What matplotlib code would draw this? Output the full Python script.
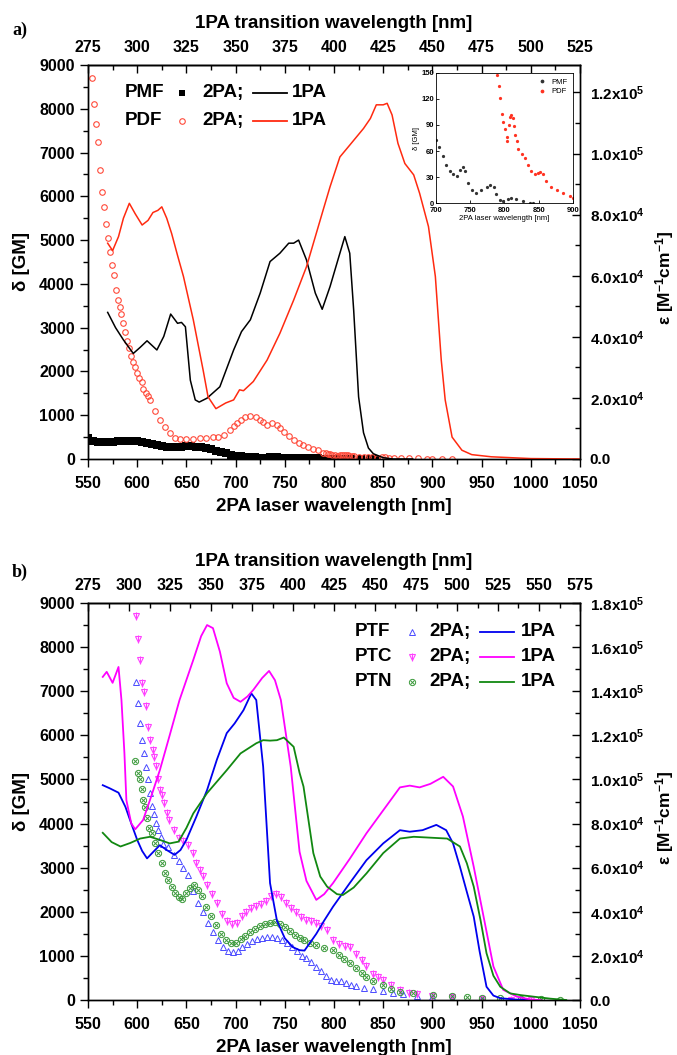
import numpy as np
import matplotlib.pyplot as plt
from matplotlib.ticker import MultipleLocator, FuncFormatter

plt.rcParams['font.family'] = ['Liberation Sans', 'DejaVu Sans']
plt.rcParams['font.weight'] = 'bold'
plt.rcParams['axes.labelweight'] = 'bold'
plt.rcParams['mathtext.fontset'] = 'custom'
plt.rcParams['mathtext.rm'] = 'Liberation Sans:bold'
plt.rcParams['mathtext.bf'] = 'Liberation Sans:bold'
plt.rcParams['mathtext.default'] = 'bf'
plt.rcParams['axes.linewidth'] = 1.0

# ---------------- panel a data ----------------
# 2PA cross sections (GM)
pmf_2pa_x = [550, 555, 560, 565, 570, 575, 580, 585, 590, 595, 600, 605, 610, 615, 620, 625,
             630, 635, 640, 645, 650, 655, 660, 665, 670, 675, 680, 685, 690, 695, 700,
             705, 710, 715, 720, 725, 730, 735, 739, 742, 747, 752, 759, 766, 774, 779,
             784, 788, 793, 798, 805, 810, 817, 827, 837, 842]
pmf_2pa_y = [470, 420, 390, 380, 380, 390, 400, 415, 420, 415, 400, 380, 360, 335, 310, 290,
             280, 275, 280, 285, 290, 290, 285, 270, 250, 220, 190, 160, 130, 100, 73,
             65, 54, 44, 37, 33, 31, 38, 42, 37, 23, 15, 12, 15, 19, 21,
             18, 10, 4, 2, 5, 6, 5, 2, 0, 0]

pdf_2pa_x = [554, 556, 558, 560.5, 562, 564, 566, 568, 570, 572, 574, 576, 578, 580, 582.5,
             584, 586, 588, 590, 592, 594, 596, 598, 600, 602, 605, 606, 609, 611, 613,
             618, 623, 628, 633, 638, 644, 650, 657, 664, 670, 677, 682, 688, 694, 698,
             701, 705, 710, 715, 721, 725, 728, 732, 737, 742, 745, 749, 754, 759, 764,
             769, 774, 779, 784, 789, 792, 794, 796, 798, 801, 803, 804, 806, 808, 810,
             812, 814, 815, 818, 820, 825, 830, 835, 839, 844, 849, 852, 856, 861, 868,
             876, 885, 895, 900, 910, 920]
pdf_2pa_y = [8700, 8100, 7650, 7250, 6610, 6110, 5750, 5360, 5040, 4720, 4430, 4200, 3860, 3630, 3480,
             3310, 3100, 2910, 2700, 2530, 2350, 2220, 2110, 1960, 1840, 1750, 1610, 1510, 1430, 1350,
             1100, 890, 720, 590, 475, 455, 450, 460, 475, 485, 495, 510, 550, 660, 750,
             830, 900, 950, 980, 950, 900, 850, 780, 830, 780, 700, 620, 520, 435, 375,
             320, 270, 230, 195, 148, 135, 121, 103, 94, 85, 76, 71, 90, 99, 101,
             98, 89, 79, 71, 62, 56, 52, 44, 37, 33, 35, 36, 33, 25, 19,
             15, 12, 8, 6, 5, 4]

# 1PA molar absorption (M^-1 cm^-1), x = 2 x 1PA wavelength
pmf_1pa_x = [570, 578, 586, 596, 603, 610, 620, 627, 634, 641, 645, 649, 654, 659, 663, 671,
             684, 698, 706, 715, 725, 735, 745, 754, 759, 764, 772, 781, 788, 796, 804,
             811, 816, 820, 825, 830, 835, 840, 850, 860, 880]
pmf_1pa_y = [48000, 43000, 39000, 34550, 36550, 38700, 35700, 40130, 47450, 44430, 44720, 43290,
             25800, 19350, 18630, 19920, 23650, 35690, 41710, 45580, 54320, 64640, 67370, 70660,
             70660, 71670, 65220, 54320, 49020, 56470, 65220, 72810, 67370, 48730, 20350, 8600,
             3580, 1720, 430, 0, 0]

pdf_1pa_x = [570, 575, 581, 586, 592, 598, 605, 611, 616, 621, 625, 630, 635, 641, 647, 657,
             667, 672, 680, 690, 698, 704, 708, 718, 732, 745, 759, 772, 789, 796, 806, 816,
             830, 837, 843, 850, 854, 859, 865, 872, 881, 887, 896, 903, 909, 913, 920, 930,
             940, 960, 1000, 1050]
pdf_1pa_y = [70660, 68230, 72810, 78830, 83710, 80270, 76610, 78120, 80700, 81410, 82560, 78830,
             73820, 66650, 59770, 45580, 29100, 20350, 16480, 18350, 19350, 22650, 22360, 25370,
             32390, 41140, 52030, 62920, 81560, 89150, 98900, 102770, 108220, 111510, 115960,
             115960, 116460, 112660, 103340, 96750, 93020, 87000, 76110, 59770, 32390, 19350,
             7170, 2870, 1430, 720, 140, 0]

# ---------------- panel b data ----------------
ptf_2pa_x = [599, 601, 603, 604.5, 607, 609, 611, 613, 615, 617, 619, 621, 624, 626, 631, 637,
             642, 647, 652, 657, 662, 667, 672, 677, 682, 687, 692, 697, 702, 707, 712, 717,
             722, 727, 732, 737, 742, 747, 752, 757, 762, 767, 772, 777, 782, 787, 792, 797,
             802, 807, 812, 817, 822, 830, 840, 850, 860, 870, 884, 900, 920, 950, 980]
ptf_2pa_y = [7215, 6740, 6290, 5890, 5600, 5290, 5010, 4690, 4400, 4210, 4020, 3850, 3700, 3530,
             3460, 3290, 3140, 3000, 2840, 2460, 2200, 2000, 1750, 1550, 1350, 1200, 1100, 1080,
             1100, 1200, 1280, 1340, 1380, 1400, 1420, 1420, 1400, 1370, 1300, 1200, 1100, 1000,
             950, 870, 755, 650, 550, 450, 440, 430, 380, 340, 310, 270, 240, 200, 160, 130,
             100, 60, 35, 15, 5]

ptc_2pa_x = [599, 601, 603, 605, 607, 609, 611, 613, 616, 617.5, 619, 621, 623, 625, 627.5, 630,
             632.5, 637, 642, 647, 652, 657, 660, 664, 667, 671, 676, 681, 686, 691, 696, 701,
             706, 711, 716, 721, 726, 731, 736, 741, 746, 751, 756, 761, 766, 772, 777, 782,
             787, 793, 799, 805, 811, 816, 822, 828, 833, 840, 845, 850, 858, 867, 876, 884,
             900, 920, 950, 980, 1000]
ptc_2pa_y = [8700, 8180, 7710, 7190, 6990, 6660, 6180, 5890, 5670, 5500, 5310, 5010, 4760, 4650,
             4460, 4230, 4080, 3850, 3670, 3610, 3510, 3330, 3100, 2950, 2800, 2610, 2400, 2200,
             1950, 1800, 1720, 1750, 1900, 2000, 2080, 2120, 2180, 2250, 2350, 2400, 2330, 2200,
             2080, 1990, 1890, 1820, 1780, 1740, 1680, 1590, 1360, 1280, 1220, 1210, 1050, 900,
             760, 600, 520, 450, 330, 230, 170, 130, 90, 60, 30, 10, 5]

ptn_2pa_x = [598, 600.5, 603, 604.5, 606, 608, 610, 612, 615, 618, 621, 625, 628, 631.5, 635,
             638, 642, 646, 650, 654, 658, 662, 666, 670, 675, 680, 685, 690, 695, 700, 705,
             710, 715, 720, 725, 730, 735, 740, 745, 750, 755, 760, 765, 770, 776, 782, 790,
             799, 805, 810, 816, 822, 828, 833, 840, 850, 858, 867, 880, 901, 920, 935, 950,
             969, 990, 1010, 1030]
ptn_2pa_y = [5420, 5140, 5010, 4780, 4530, 4380, 4120, 3910, 3780, 3550, 3330, 3100, 2870, 2720,
             2570, 2420, 2330, 2300, 2420, 2550, 2600, 2500, 2350, 2100, 1900, 1700, 1500, 1350,
             1290, 1300, 1380, 1450, 1550, 1620, 1680, 1720, 1750, 1760, 1720, 1650, 1560, 1480,
             1400, 1350, 1300, 1250, 1190, 1130, 1030, 920, 830, 720, 620, 530, 440, 340, 260,
             190, 150, 110, 90, 75, 55, 38, 25, 15, 5]

ptf_1pa_x = [565, 572, 581, 588, 594, 600, 605, 610, 616, 623, 630, 638, 644, 650, 660, 671, 681,
             691, 699, 708, 716, 721, 728, 735, 742, 750, 758, 765, 770, 782, 790, 799, 816,
             833, 850, 867, 877, 890, 904, 914, 921, 928, 935, 942, 948, 955, 962, 969, 985, 1000]
ptf_1pa_y = [97400, 96000, 94000, 87600, 80000, 72600, 67600, 64200, 67000, 70200, 68000, 65800,
             68000, 72600, 83000, 95200, 109000, 121000, 125400, 131400, 139000, 136000, 105800,
             53000, 36000, 28000, 24000, 22600, 22400, 30000, 36000, 42300, 53000, 63400, 71000,
             77000, 76300, 77000, 79400, 77000, 71000, 60400, 49000, 37800, 22000, 6000, 2000,
             800, 200, 0]

ptc_1pa_x = [565, 569, 575, 581, 584, 587, 589, 594, 598, 606, 614, 623, 633, 643, 657, 665, 671,
             677, 684, 691, 698, 705, 712, 718, 727, 734, 740, 746, 756, 765, 772, 782, 790, 799,
             816, 833, 850, 867, 877, 887, 898, 911, 921, 931, 942, 952, 962, 972, 986, 1000, 1010]
ptc_1pa_y = [146500, 148800, 143800, 151000, 136000, 112000, 90600, 80000, 77400, 81600, 92000,
             104200, 120000, 136000, 154200, 165000, 170000, 168600, 158000, 143600, 137000,
             135200, 137600, 140600, 146000, 149200, 145000, 136000, 105800, 67200, 54000, 45400,
             48000, 53000, 64000, 75600, 86000, 96400, 97200, 96400, 98000, 101200, 96800, 83200,
             60400, 37800, 15200, 4600, 1500, 200, 0]

ptn_1pa_x = [565, 574, 583, 593, 603, 613, 623, 633, 642, 650, 657, 671, 691, 705, 721, 728, 735,
             742, 749, 759, 765, 769, 779, 786, 793, 803, 809, 820, 833, 850, 867, 881, 898, 915,
             928, 935, 942, 949, 955, 962, 969, 979, 990, 1003, 1020, 1036]
ptn_1pa_y = [75800, 71600, 69600, 71200, 73200, 74000, 72600, 71000, 71800, 78000, 84600, 93800,
             104200, 111800, 116400, 117800, 117600, 117800, 119000, 114800, 103000, 96800, 66600,
             56000, 51400, 48000, 47600, 51000, 57400, 66600, 73200, 74000, 73600, 73200, 69600,
             62000, 51400, 36000, 21200, 11000, 6000, 3000, 2200, 1500, 600, 0]

W, H = 677, 1055
fig = plt.figure(figsize=(W / 100, H / 100), dpi=100)

TICK = 11.5
LAB = 13.5


def sci_fmt(v, pos):
    if v <= 0:
        return '0.0' if abs(v) < 1 else ''
    e = int(np.floor(np.log10(v) + 1e-9))
    return '%.1fx10$^{%d}$' % (v / 10 ** e, e)


def setup(ax, ax2, eps_max, eps_major, fwd, inv):
    ax.set_xlim(550, 1050)
    ax.set_ylim(0, 9000)
    ax.xaxis.set_major_locator(MultipleLocator(50))
    ax.xaxis.set_minor_locator(MultipleLocator(25))
    ax.yaxis.set_major_locator(MultipleLocator(1000))
    ax.yaxis.set_minor_locator(MultipleLocator(500))
    ax.tick_params(which='both', direction='out', width=1, labelsize=TICK, top=False, right=False)
    ax.tick_params(which='major', length=6)
    ax.tick_params(which='minor', length=3.5)
    ax.tick_params(axis='x', pad=6)
    ax.set_xlabel('2PA laser wavelength [nm]', fontsize=LAB, labelpad=5)
    ax.set_ylabel('δ [GM]', fontsize=LAB)
    ax.yaxis.set_label_coords(-0.118, 0.5)

    ax2.set_ylim(0, eps_max)
    ax2.yaxis.set_major_locator(MultipleLocator(eps_major))
    ax2.yaxis.set_minor_locator(MultipleLocator(eps_major / 2))
    ax2.yaxis.set_major_formatter(FuncFormatter(sci_fmt))
    ax2.tick_params(which='both', direction='in', width=1, labelsize=11, pad=7)
    ax2.tick_params(which='major', length=6)
    ax2.tick_params(which='minor', length=3.5)
    ax2.set_ylabel('ε [M$^{-1}$cm$^{-1}$]', fontsize=12.5)
    ax2.yaxis.set_label_coords(1.148, 0.46)

    sec = ax.secondary_xaxis('top', functions=(fwd, inv))
    sec.xaxis.set_major_locator(MultipleLocator(25))
    sec.xaxis.set_minor_locator(MultipleLocator(12.5))
    sec.tick_params(which='both', direction='in', width=1, labelsize=TICK, pad=7)
    sec.tick_params(which='major', length=6)
    sec.tick_params(which='minor', length=3.5)
    sec.set_xlabel('1PA transition wavelength [nm]', fontsize=LAB, labelpad=9)
    return sec


def key_row(ax, y, name, marks, color, xs):
    kw = dict(transform=ax.transAxes, va='center', fontsize=13.5)
    ax.text(xs[0], y, name, **kw)
    for m in marks:
        ax.plot([xs[1]], [y], transform=ax.transAxes, linestyle='none', clip_on=False, **m)
    ax.text(xs[2], y, '2PA;', **kw)
    ax.plot([xs[3], xs[4]], [y, y], color=color, lw=1.3, transform=ax.transAxes)
    ax.text(xs[5], y, '1PA', **kw)


# ---------------- panel a ----------------
axa = fig.add_axes([88 / W, 1 - 459 / H, 492 / W, 394 / H])
axa2 = axa.twinx()
setup(axa, axa2, 1.29e5, 2e4, lambda x: x / 2, lambda t: t * 2)

pmf_sq = dict(marker='s', color='black', markersize=5.5, mew=0)
pdf_ci = dict(marker='o', mfc='none', mec='#ff4a3a', markersize=4, mew=0.8)
axa.plot(pmf_2pa_x, pmf_2pa_y, linestyle='none', **pmf_sq)
axa.plot(pdf_2pa_x, pdf_2pa_y, linestyle='none', **pdf_ci)
axa2.plot(pmf_1pa_x, pmf_1pa_y, color='black', lw=1.1)
axa2.plot(pdf_1pa_x, pdf_1pa_y, color='#ff2a10', lw=1.1)

xs_a = (0.075, 0.192, 0.232, 0.335, 0.404, 0.415)
key_row(axa2, 0.929, 'PMF', [dict(pmf_sq, markersize=4.5)], 'black', xs_a)
key_row(axa2, 0.858, 'PDF', [pdf_ci], '#ff2a10', xs_a)

fig.text(12 / W, 1 - 30 / H, 'a)', family='Liberation Serif', fontsize=13, weight='bold', va='center')

# inset
axi = fig.add_axes([436 / W, 1 - 203 / H, 137 / W, 130 / H])
axi.plot(pmf_2pa_x, pmf_2pa_y, linestyle='none', marker='o', markersize=1.3, color='#333333', label='PMF')
axi.plot(pdf_2pa_x, pdf_2pa_y, linestyle='none', marker='o', markersize=1.3, color='#ff3322', label='PDF')
axi.set_xlim(700, 900)
axi.set_ylim(0, 150)
axi.xaxis.set_major_locator(MultipleLocator(50))
axi.yaxis.set_major_locator(MultipleLocator(30))
axi.tick_params(direction='in', length=2, width=0.6, labelsize=5.5, pad=1.5)
axi.tick_params(axis='x', pad=3)
for s in axi.spines.values():
    s.set_linewidth(0.6)
axi.set_xlabel('2PA laser wavelength [nm]', fontsize=5.5, fontweight='normal', labelpad=0.5)
axi.set_ylabel('δ [GM]', fontsize=5.5, fontweight='normal', labelpad=1)
leg = axi.legend(loc='upper right', frameon=False, fontsize=5.5, handletextpad=0.2,
                 markerscale=1.3, borderaxespad=0.3, labelspacing=0.3)
for t in leg.get_texts():
    t.set_fontweight('normal')

# ---------------- panel b ----------------
axb = fig.add_axes([88 / W, 1 - 1000 / H, 492 / W, 397 / H])
axb2 = axb.twinx()
setup(axb, axb2, 1.8e5, 2e4, lambda x: 275 + (x - 550) * 0.6, lambda t: 550 + (t - 275) / 0.6)

ptf_m = [dict(marker='^', mfc='none', mec='#4a4aff', markersize=5, mew=0.7)]
ptc_m = [dict(marker='v', mfc='none', mec='#ff40ff', markersize=4.5, mew=0.8),
         dict(marker='|', mec='#ff40ff', markersize=6, mew=0.8)]
ptn_m = [dict(marker='o', mfc='none', mec='#3c9a3c', markersize=4.5, mew=0.7),
         dict(marker='x', mec='#3c9a3c', markersize=3.5, mew=0.7)]

for m in ptf_m:
    axb.plot(ptf_2pa_x, ptf_2pa_y, linestyle='none', **m)
for m in ptc_m:
    axb.plot(ptc_2pa_x, ptc_2pa_y, linestyle='none', **m)
for m in ptn_m:
    axb.plot(ptn_2pa_x, ptn_2pa_y, linestyle='none', **m)
axb2.plot(ptf_1pa_x, ptf_1pa_y, color='#0000ee', lw=1.3)
axb2.plot(ptc_1pa_x, ptc_1pa_y, color='#ff00ff', lw=1.3)
axb2.plot(ptn_1pa_x, ptn_1pa_y, color='#118811', lw=1.3)

xs_b = (0.543, 0.659, 0.693, 0.797, 0.865, 0.880)
key_row(axb2, 0.928, 'PTF', ptf_m, '#0000ee', xs_b)
key_row(axb2, 0.865, 'PTC', ptc_m, '#ff00ff', xs_b)
key_row(axb2, 0.802, 'PTN', ptn_m, '#118811', xs_b)

fig.text(12 / W, 1 - 572 / H, 'b)', family='Liberation Serif', fontsize=13, weight='bold', va='center')

fig.savefig('out.png', dpi=100)
